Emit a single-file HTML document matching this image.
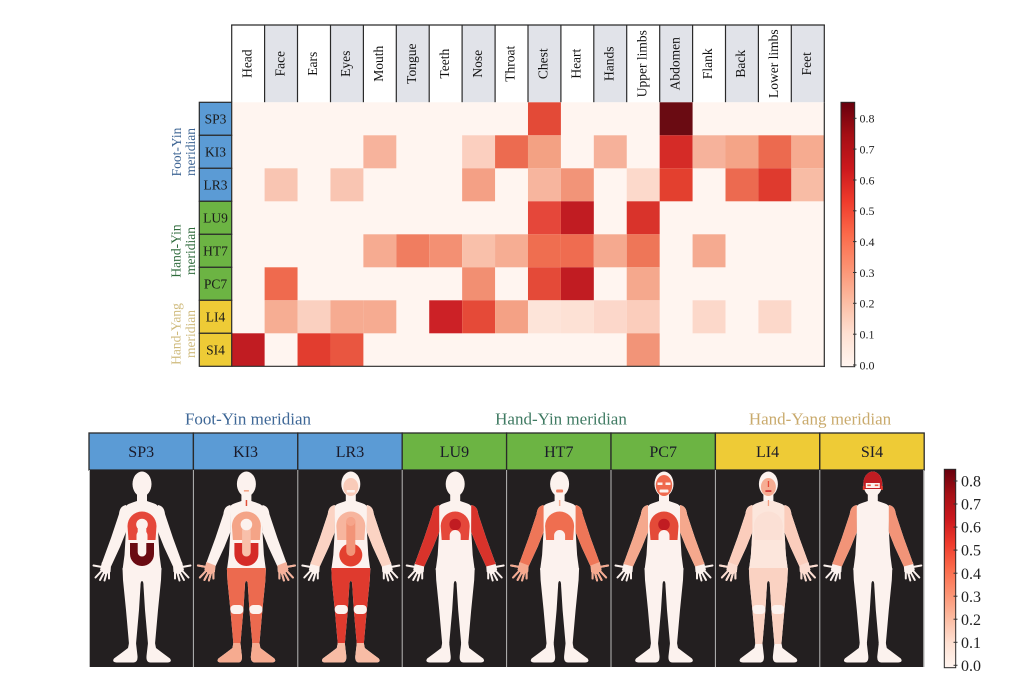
<!DOCTYPE html>
<html><head><meta charset="utf-8"><style>
html,body{margin:0;padding:0;background:#fff;}
svg{display:block;}
text{font-family:"Liberation Serif",serif;}
</style></head><body>
<svg width="1024" height="683" viewBox="0 0 1024 683" xmlns="http://www.w3.org/2000/svg">
<defs>
<linearGradient id="cb" x1="0" y1="1" x2="0" y2="0">
<stop offset="0" stop-color="#fff5f0"/><stop offset="0.125" stop-color="#fee0d2"/><stop offset="0.25" stop-color="#fcbba1"/><stop offset="0.375" stop-color="#fc9272"/><stop offset="0.5" stop-color="#fb6a4a"/><stop offset="0.625" stop-color="#ef3b2c"/><stop offset="0.75" stop-color="#cb181d"/><stop offset="0.875" stop-color="#a50f15"/><stop offset="1" stop-color="#67000d"/>
</linearGradient>
<g id="head" fill="currentColor"><ellipse cx="52.5" cy="14" rx="9.5" ry="12.5"/><rect x="47.5" y="22" width="10" height="13"/></g>
<path id="torso" fill="currentColor" d="M47.5 31 C42 33 37 34 36 37 L36.5 60 L35 85 L33 100 L72 100 L70 85 L68.5 60 L69 37 C68 34 63 33 57.5 31 Z"/>
<path id="arms" fill="currentColor" d="M36.5 35 C31.5 36 30 39.5 29.5 44 L21.5 68 L12 94 L21.5 96.5 L30.5 77 L36.5 62 Z M68.5 35 C73.5 36 75 39.5 75.5 44 L83.5 68 L93 94 L83.5 96.5 L74.5 77 L68.5 62 Z"/>
<g id="hand" fill="currentColor" stroke="currentColor" stroke-linecap="round">
<path stroke="none" d="M12.5 92 L21.5 95.5 L21 102 L16 104.5 L10.5 100 Z"/>
<g stroke-width="2" fill="none"><line x1="12.5" y1="97" x2="4" y2="95.5"/><line x1="12.5" y1="100.5" x2="6" y2="107.5"/><line x1="14.8" y1="102" x2="10.5" y2="110"/><line x1="17.2" y1="102.5" x2="15" y2="110.5"/><line x1="19.5" y1="101.5" x2="19.5" y2="108.5"/></g>
</g>
<g id="hands"><use href="#hand"/><use href="#hand" transform="matrix(-1 0 0 1 105 0)"/></g>
<path id="legs" fill="currentColor" d="M33 98 L72 98 L71.5 110 L68.5 140 L65.5 174 L58.5 174 L55.5 140 L54 116 Q54 111 52.5 111 Q51 111 51 116 L49.5 140 L46.5 174 L39.5 174 L36.5 140 L33.5 110 Z"/>
<path id="footL" fill="currentColor" d="M39.5 173 L46.5 173 L48 186 Q48.5 192.5 44 192.5 L27 192.5 Q22 192 24.5 188.5 Q32 183 38.5 178 Z"/>
<g id="feet"><use href="#footL"/><use href="#footL" transform="matrix(-1 0 0 1 105 0)"/></g>
<g id="knees" fill="#fcf2ee"><rect x="36.5" y="135" width="13" height="9" rx="4"/><rect x="55.5" y="135" width="13" height="9" rx="4"/></g>
<path id="chest" fill="currentColor" d="M38 56 A14.5 14.5 0 0 1 67 56 L66 70 L39 70 Z"/>
<path id="notch" fill="currentColor" d="M47 70.5 L47 65.5 A5.5 5.5 0 0 1 58 65.5 L58 70.5 Z"/>
<path id="abd" fill="currentColor" d="M40.5 73 L64.5 73 L64.5 84 A12 12 0 0 1 40.5 84 Z"/>
<circle id="heart" fill="currentColor" cx="52.5" cy="54.5" r="5.8"/>
<ellipse id="face" fill="currentColor" cx="52.5" cy="17" rx="7.5" ry="9"/>
<g id="body"><use href="#head"/><use href="#torso"/><use href="#arms"/><use href="#hands"/><use href="#legs"/><use href="#feet"/></g>
</defs>
<rect width="1024" height="683" fill="#fff"/>

<!-- ===== Heatmap header ===== -->
<g>
<rect x="231.7" y="25" width="592.6" height="77.3" fill="#fff"/>
<g fill="#e1e3e9">
<rect x="264.6" y="25" width="32.9" height="77.3"/><rect x="330.5" y="25" width="32.9" height="77.3"/><rect x="396.3" y="25" width="32.9" height="77.3"/><rect x="462.1" y="25" width="32.9" height="77.3"/><rect x="528.0" y="25" width="32.9" height="77.3"/><rect x="593.8" y="25" width="32.9" height="77.3"/><rect x="659.7" y="25" width="32.9" height="77.3"/><rect x="725.5" y="25" width="32.9" height="77.3"/><rect x="791.3" y="25" width="33" height="77.3"/>
</g>
<g stroke="#2a2a2a" stroke-width="1.2">
<line x1="231.1" y1="25" x2="824.9" y2="25"/>
<line x1="231.7" y1="25" x2="231.7" y2="102.3"/><line x1="264.6" y1="25" x2="264.6" y2="102.3"/><line x1="297.5" y1="25" x2="297.5" y2="102.3"/><line x1="330.5" y1="25" x2="330.5" y2="102.3"/><line x1="363.4" y1="25" x2="363.4" y2="102.3"/><line x1="396.3" y1="25" x2="396.3" y2="102.3"/><line x1="429.2" y1="25" x2="429.2" y2="102.3"/><line x1="462.1" y1="25" x2="462.1" y2="102.3"/><line x1="495.1" y1="25" x2="495.1" y2="102.3"/><line x1="528.0" y1="25" x2="528.0" y2="102.3"/><line x1="560.9" y1="25" x2="560.9" y2="102.3"/><line x1="593.8" y1="25" x2="593.8" y2="102.3"/><line x1="626.7" y1="25" x2="626.7" y2="102.3"/><line x1="659.7" y1="25" x2="659.7" y2="102.3"/><line x1="692.6" y1="25" x2="692.6" y2="102.3"/><line x1="725.5" y1="25" x2="725.5" y2="102.3"/><line x1="758.4" y1="25" x2="758.4" y2="102.3"/><line x1="791.3" y1="25" x2="791.3" y2="102.3"/><line x1="824.3" y1="25" x2="824.3" y2="102.3"/>
</g>
<g font-size="13.5" fill="#111" text-anchor="middle">
<text transform="translate(251.4 63.7) rotate(-90)">Head</text>
<text transform="translate(284.3 63.7) rotate(-90)">Face</text>
<text transform="translate(317.2 63.7) rotate(-90)">Ears</text>
<text transform="translate(350.1 63.7) rotate(-90)">Eyes</text>
<text transform="translate(383.0 63.7) rotate(-90)">Mouth</text>
<text transform="translate(416.0 63.7) rotate(-90)">Tongue</text>
<text transform="translate(448.9 63.7) rotate(-90)">Teeth</text>
<text transform="translate(481.8 63.7) rotate(-90)">Nose</text>
<text transform="translate(514.7 63.7) rotate(-90)">Throat</text>
<text transform="translate(547.6 63.7) rotate(-90)">Chest</text>
<text transform="translate(580.6 63.7) rotate(-90)">Heart</text>
<text transform="translate(613.5 63.7) rotate(-90)">Hands</text>
<text transform="translate(646.4 63.7) rotate(-90)">Upper limbs</text>
<text transform="translate(679.3 63.7) rotate(-90)">Abdomen</text>
<text transform="translate(712.2 63.7) rotate(-90)">Flank</text>
<text transform="translate(745.2 63.7) rotate(-90)">Back</text>
<text transform="translate(778.1 63.7) rotate(-90)">Lower limbs</text>
<text transform="translate(811.0 63.7) rotate(-90)">Feet</text>
</g>
</g>

<!-- ===== Heatmap cells ===== -->
<g transform="translate(231.7 102.3) scale(32.92 33)">
<rect x="0" y="0" width="18" height="8" fill="#fff5f0"/>
<rect x="9" y="0" width="1" height="1" fill="#e34a37"/><rect x="13" y="0" width="1" height="1" fill="#6a0b12"/>
<rect x="4" y="1" width="1" height="1" fill="#f7b39c"/><rect x="7" y="1" width="1" height="1" fill="#fbcfbf"/><rect x="8" y="1" width="1" height="1" fill="#ec6b50"/><rect x="9" y="1" width="1" height="1" fill="#f3a183"/><rect x="11" y="1" width="1" height="1" fill="#f6b19a"/><rect x="13" y="1" width="1" height="1" fill="#d52b27"/><rect x="14" y="1" width="1" height="1" fill="#f6b29b"/><rect x="15" y="1" width="1" height="1" fill="#f4a487"/><rect x="16" y="1" width="1" height="1" fill="#ec6a4f"/><rect x="17" y="1" width="1" height="1" fill="#f6ab90"/>
<rect x="1" y="2" width="1" height="1" fill="#f9c5b2"/><rect x="3" y="2" width="1" height="1" fill="#f9c5b2"/><rect x="7" y="2" width="1" height="1" fill="#f4a085"/><rect x="9" y="2" width="1" height="1" fill="#f7b59e"/><rect x="10" y="2" width="1" height="1" fill="#f29478"/><rect x="12" y="2" width="1" height="1" fill="#fcd9cb"/><rect x="13" y="2" width="1" height="1" fill="#e3402f"/><rect x="15" y="2" width="1" height="1" fill="#ec6a50"/><rect x="16" y="2" width="1" height="1" fill="#df3a2e"/><rect x="17" y="2" width="1" height="1" fill="#f8bca5"/>
<rect x="9" y="3" width="1" height="1" fill="#e5473a"/><rect x="10" y="3" width="1" height="1" fill="#c11c22"/><rect x="12" y="3" width="1" height="1" fill="#d9332b"/>
<rect x="4" y="4" width="1" height="1" fill="#f6ab91"/><rect x="5" y="4" width="1" height="1" fill="#f07d60"/><rect x="6" y="4" width="1" height="1" fill="#f39073"/><rect x="7" y="4" width="1" height="1" fill="#f9c0aa"/><rect x="8" y="4" width="1" height="1" fill="#f6ad93"/><rect x="9" y="4" width="1" height="1" fill="#ef6e50"/><rect x="10" y="4" width="1" height="1" fill="#ef6c50"/><rect x="11" y="4" width="1" height="1" fill="#f5a98f"/><rect x="12" y="4" width="1" height="1" fill="#ee7658"/><rect x="14" y="4" width="1" height="1" fill="#f5aa90"/>
<rect x="1" y="5" width="1" height="1" fill="#ef6a4e"/><rect x="7" y="5" width="1" height="1" fill="#f28f72"/><rect x="9" y="5" width="1" height="1" fill="#e44a38"/><rect x="10" y="5" width="1" height="1" fill="#c11c22"/><rect x="12" y="5" width="1" height="1" fill="#f5a88d"/>
<rect x="1" y="6" width="1" height="1" fill="#f6ad93"/><rect x="2" y="6" width="1" height="1" fill="#fad0c0"/><rect x="3" y="6" width="1" height="1" fill="#f6ab91"/><rect x="4" y="6" width="1" height="1" fill="#f6ab91"/><rect x="6" y="6" width="1" height="1" fill="#cc2126"/><rect x="7" y="6" width="1" height="1" fill="#e54a38"/><rect x="8" y="6" width="1" height="1" fill="#f4a185"/><rect x="9" y="6" width="1" height="1" fill="#fde4d9"/><rect x="10" y="6" width="1" height="1" fill="#fde1d5"/><rect x="11" y="6" width="1" height="1" fill="#fcd7ca"/><rect x="12" y="6" width="1" height="1" fill="#fbcdbc"/><rect x="14" y="6" width="1" height="1" fill="#fcd8ca"/><rect x="16" y="6" width="1" height="1" fill="#fcd8ca"/>
<rect x="0" y="7" width="1" height="1" fill="#c11c22"/><rect x="2" y="7" width="1" height="1" fill="#e23d2f"/><rect x="3" y="7" width="1" height="1" fill="#e95640"/><rect x="12" y="7" width="1" height="1" fill="#f29478"/>
</g>
<g stroke="#2a2a2a" stroke-width="1.2" fill="none">
<line x1="231.7" y1="366.3" x2="824.9" y2="366.3"/><line x1="824.3" y1="102.3" x2="824.3" y2="366.9"/>
</g>

<!-- Row labels -->
<g stroke="#2a2a2a" stroke-width="1.2">
<rect x="199.3" y="102.3" width="32.4" height="33" fill="#5b9bd5"/>
<rect x="199.3" y="135.3" width="32.4" height="33" fill="#5b9bd5"/>
<rect x="199.3" y="168.3" width="32.4" height="33" fill="#5b9bd5"/>
<rect x="199.3" y="201.3" width="32.4" height="33" fill="#6cb443"/>
<rect x="199.3" y="234.3" width="32.4" height="33" fill="#6cb443"/>
<rect x="199.3" y="267.3" width="32.4" height="33" fill="#6cb443"/>
<rect x="199.3" y="300.3" width="32.4" height="33" fill="#eecb36"/>
<rect x="199.3" y="333.3" width="32.4" height="33" fill="#eecb36"/>
</g>
<g font-size="13.5" fill="#1a1a1a" text-anchor="middle">
<text x="215.5" y="123.5">SP3</text><text x="215.5" y="156.5">KI3</text><text x="215.5" y="189.5">LR3</text><text x="215.5" y="222.5">LU9</text><text x="215.5" y="255.5">HT7</text><text x="215.5" y="288.5">PC7</text><text x="215.5" y="321.5">LI4</text><text x="215.5" y="354.5">SI4</text>
</g>
<g font-size="13.5" text-anchor="middle">
<text transform="translate(181 152) rotate(-90)" fill="#3e6594">Foot-Yin</text>
<text transform="translate(195 152) rotate(-90)" fill="#3e6594">meridian</text>
<text transform="translate(180.5 251) rotate(-90)" fill="#2f6b3c">Hand-Yin</text>
<text transform="translate(195 251) rotate(-90)" fill="#2f6b3c">meridian</text>
<text transform="translate(180.5 334) rotate(-90)" fill="#cfba7c">Hand-Yang</text>
<text transform="translate(195 334) rotate(-90)" fill="#cfba7c">meridian</text>
</g>

<!-- Top colorbar -->
<rect x="841" y="102.3" width="13.7" height="264.4" fill="url(#cb)" stroke="#2a2a2a" stroke-width="1"/>
<g stroke="#333" stroke-width="1">
<line x1="853" y1="365" x2="856.5" y2="365"/><line x1="853" y1="334.2" x2="856.5" y2="334.2"/><line x1="853" y1="303.3" x2="856.5" y2="303.3"/><line x1="853" y1="272.5" x2="856.5" y2="272.5"/><line x1="853" y1="241.6" x2="856.5" y2="241.6"/><line x1="853" y1="210.8" x2="856.5" y2="210.8"/><line x1="853" y1="180" x2="856.5" y2="180"/><line x1="853" y1="149.1" x2="856.5" y2="149.1"/><line x1="853" y1="118.3" x2="856.5" y2="118.3"/>
</g>
<g font-size="12" fill="#222">
<text x="859.5" y="369.3">0.0</text><text x="859.5" y="338.5">0.1</text><text x="859.5" y="307.6">0.2</text><text x="859.5" y="276.8">0.3</text><text x="859.5" y="245.9">0.4</text><text x="859.5" y="215.1">0.5</text><text x="859.5" y="184.3">0.6</text><text x="859.5" y="153.4">0.7</text><text x="859.5" y="122.6">0.8</text>
</g>

<!-- ===== Bottom section ===== -->
<g font-size="17" text-anchor="middle">
<text x="248" y="424.5" fill="#3e6796">Foot-Yin meridian</text>
<text x="561" y="424.5" fill="#3f7a62">Hand-Yin meridian</text>
<text x="820" y="424.5" fill="#c9aa6c">Hand-Yang meridian</text>
</g>
<g stroke="#2a2a2a" stroke-width="1.3">
<rect x="89" y="433" width="104.4" height="37" fill="#5b9bd5"/>
<rect x="193.4" y="433" width="104.4" height="37" fill="#5b9bd5"/>
<rect x="297.8" y="433" width="104.4" height="37" fill="#5b9bd5"/>
<rect x="402.2" y="433" width="104.4" height="37" fill="#6cb443"/>
<rect x="506.6" y="433" width="104.4" height="37" fill="#6cb443"/>
<rect x="611" y="433" width="104.4" height="37" fill="#6cb443"/>
<rect x="715.4" y="433" width="104.4" height="37" fill="#eecb36"/>
<rect x="819.8" y="433" width="104.4" height="37" fill="#eecb36"/>
</g>
<g font-size="16" fill="#1a1a2a" text-anchor="middle">
<text x="141.2" y="457">SP3</text><text x="245.6" y="457">KI3</text><text x="350" y="457">LR3</text><text x="454.4" y="457">LU9</text><text x="558.8" y="457">HT7</text><text x="663.2" y="457">PC7</text><text x="767.6" y="457">LI4</text><text x="872" y="457">SI4</text>
</g>
<rect x="89" y="470" width="835.2" height="197" fill="#231f20"/>
<g stroke="#b8b8b8" stroke-width="1">
<line x1="89.5" y1="470" x2="89.5" y2="667"/><line x1="193.4" y1="470" x2="193.4" y2="667"/><line x1="297.8" y1="470" x2="297.8" y2="667"/><line x1="402.2" y1="470" x2="402.2" y2="667"/><line x1="506.6" y1="470" x2="506.6" y2="667"/><line x1="611" y1="470" x2="611" y2="667"/><line x1="715.4" y1="470" x2="715.4" y2="667"/><line x1="819.8" y1="470" x2="819.8" y2="667"/><line x1="923.7" y1="470" x2="923.7" y2="667"/>
</g>

<!-- SP3 -->
<g transform="translate(89.5 470)">
<use href="#body" style="color:#fcf2ee"/>
<use href="#chest" style="color:#e5473a"/>
<use href="#abd" style="color:#6a0b12"/>
<rect x="48.2" y="55" width="8.6" height="31.5" rx="4.3" fill="#fcf2ee"/>
<use href="#heart" style="color:#fcf2ee"/>
<use href="#notch" style="color:#fcf2ee"/>
</g>
<!-- KI3 -->
<g transform="translate(193.9 470)">
<use href="#body" style="color:#fcf2ee"/>
<use href="#legs" style="color:#ec6a4f"/>
<use href="#knees"/>
<use href="#feet" style="color:#f6ab90"/>
<use href="#hands" style="color:#f6b19a"/>
<use href="#chest" style="color:#f4a487"/>
<use href="#abd" style="color:#d52b27"/>
<rect x="48.2" y="56" width="8.6" height="30.5" rx="4.3" fill="#f8c0aa"/>
<use href="#heart" style="color:#fcf2ee"/>
<rect x="51.8" y="30" width="1.5" height="6" fill="#e0503a"/>
<rect x="50" y="20" width="5" height="1.6" fill="#f4a487"/>
</g>
<!-- LR3 -->
<g transform="translate(298.3 470)">
<use href="#body" style="color:#fcf2ee"/>
<use href="#arms" style="color:#fbd3c3"/>
<use href="#face" style="color:#f9cbb9"/>
<rect x="48.5" y="20" width="8" height="2.5" fill="#fcf2ee"/>
<use href="#legs" style="color:#df3a2e"/>
<use href="#knees"/>
<use href="#feet" style="color:#f8bca5"/>
<use href="#chest" style="color:#f7b59e"/>
<circle cx="52.5" cy="85" r="11.5" fill="#e3402f"/>
<rect x="48" y="47" width="9" height="39" rx="4.5" fill="#f29478"/>
<circle cx="52.5" cy="51.5" r="4.5" fill="#f6a48a"/>
</g>
<!-- LU9 -->
<g transform="translate(402.7 470)">
<use href="#body" style="color:#fcf2ee"/>
<use href="#arms" style="color:#d9332b"/>
<use href="#chest" style="color:#e5473a"/>
<use href="#heart" style="color:#c11c22"/>
<use href="#notch" style="color:#fcf2ee"/>
</g>
<!-- HT7 -->
<g transform="translate(507.1 470)">
<use href="#body" style="color:#fcf2ee"/>
<use href="#arms" style="color:#ee7658"/>
<use href="#hands" style="color:#f5a98f"/>
<use href="#chest" style="color:#ef6e50"/>
<use href="#notch" style="color:#fcf2ee"/>
<rect x="49" y="19.5" width="7" height="3" rx="1" fill="#f07d60"/>
<rect x="51.8" y="30" width="1.5" height="6" fill="#f6ad93"/>
</g>
<!-- PC7 -->
<g transform="translate(611.5 470)">
<use href="#body" style="color:#fcf2ee"/>
<ellipse cx="52.5" cy="15.5" rx="8.2" ry="10.5" fill="#ef6a4e"/>
<rect x="46" y="12.5" width="5" height="2.5" fill="#fcf2ee"/><rect x="54" y="12.5" width="5" height="2.5" fill="#fcf2ee"/>
<rect x="48" y="19.5" width="9" height="3" rx="1" fill="#fcf2ee"/>
<use href="#arms" style="color:#f5a88d"/>
<use href="#chest" style="color:#e44a38"/>
<use href="#heart" style="color:#c11c22"/>
<use href="#notch" style="color:#fcf2ee"/>
</g>
<!-- LI4 -->
<g transform="translate(715.9 470)">
<use href="#body" style="color:#fcf2ee"/>
<use href="#torso" style="color:#fce6dc"/>
<use href="#face" style="color:#f6ad93"/>
<rect x="51.9" y="11" width="1.3" height="6" fill="#e54a38"/>
<rect x="49.5" y="20.3" width="6" height="1.5" fill="#cc2126"/>
<rect x="51.9" y="30" width="1.3" height="6" fill="#f4a185"/>
<use href="#arms" style="color:#fbcdbc"/>
<use href="#hands" style="color:#fcdcd0"/>
<use href="#chest" style="color:#fbe0d5"/>
<use href="#legs" style="color:#fad2c2"/>
<use href="#knees"/>
</g>
<!-- SI4 -->
<g transform="translate(820.3 470)">
<use href="#body" style="color:#fcf2ee"/>
<path d="M43.03 13 A9.5 12.5 0 0 1 61.97 13 L61.2 19 L43.8 19 Z" fill="#c11c22"/>
<rect x="45.5" y="13" width="14" height="5" fill="#fcf2ee"/>
<rect x="47" y="14.5" width="3.5" height="1.6" fill="#e95640"/><rect x="54.5" y="14.5" width="3.5" height="1.6" fill="#e95640"/>
<rect x="42.5" y="16" width="1.8" height="4" fill="#e23d2f"/><rect x="60.7" y="16" width="1.8" height="4" fill="#e23d2f"/>
<use href="#arms" style="color:#f29478"/>
</g>

<!-- Bottom colorbar -->
<rect x="944.3" y="469.3" width="11.4" height="198.4" fill="url(#cb)" stroke="#2a2a2a" stroke-width="1"/>
<g stroke="#333" stroke-width="1">
<line x1="953.5" y1="665.3" x2="957.5" y2="665.3"/><line x1="953.5" y1="642.3" x2="957.5" y2="642.3"/><line x1="953.5" y1="619.2" x2="957.5" y2="619.2"/><line x1="953.5" y1="596.2" x2="957.5" y2="596.2"/><line x1="953.5" y1="573.2" x2="957.5" y2="573.2"/><line x1="953.5" y1="550.1" x2="957.5" y2="550.1"/><line x1="953.5" y1="527.1" x2="957.5" y2="527.1"/><line x1="953.5" y1="504" x2="957.5" y2="504"/><line x1="953.5" y1="481" x2="957.5" y2="481"/>
</g>
<g font-size="16" fill="#222">
<text x="961" y="670.9">0.0</text><text x="961" y="647.9">0.1</text><text x="961" y="624.8">0.2</text><text x="961" y="601.8">0.3</text><text x="961" y="578.8">0.4</text><text x="961" y="555.7">0.5</text><text x="961" y="532.7">0.6</text><text x="961" y="509.6">0.7</text><text x="961" y="486.6">0.8</text>
</g>
</svg>
</body></html>
